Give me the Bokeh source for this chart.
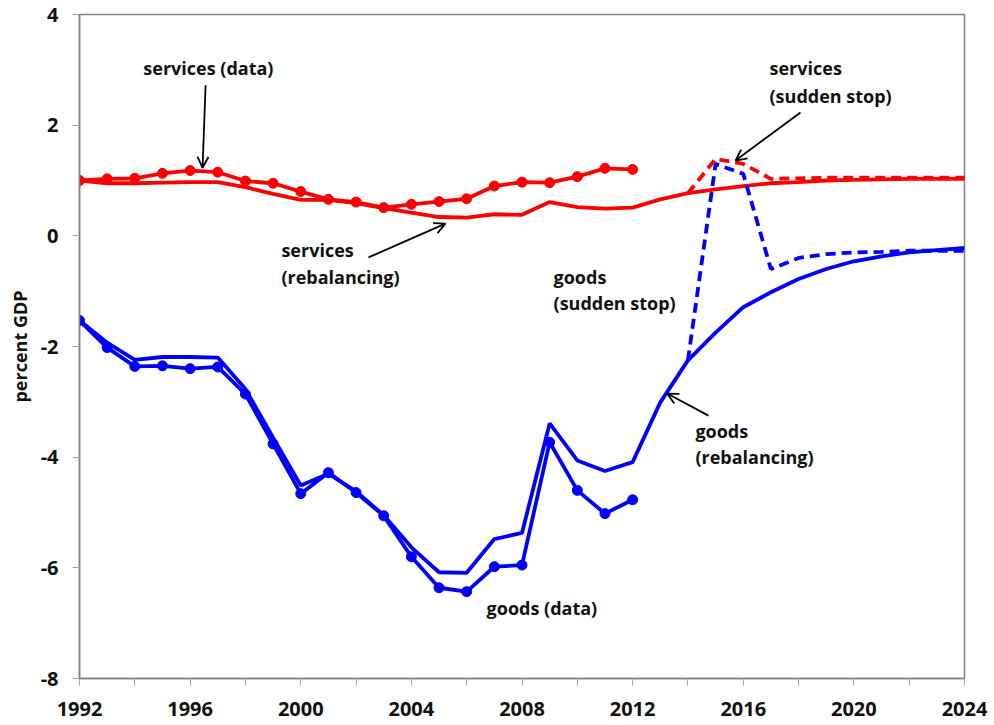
from bokeh.plotting import figure
from bokeh.models import FixedTicker, Arrow, OpenHead, Label, Range1d
from bokeh.embed import file_html
from bokeh.resources import INLINE

# ---------------- data ----------------
years_data = list(range(1992, 2013))
years_model = list(range(1992, 2025))
years_stop = list(range(2014, 2025))

services_data = [1.00, 1.03, 1.04, 1.13, 1.18, 1.15, 0.99, 0.95, 0.80, 0.66, 0.61,
                 0.51, 0.57, 0.62, 0.67, 0.90, 0.97, 0.96, 1.07, 1.22, 1.20]
goods_data = [-1.53, -2.02, -2.36, -2.35, -2.40, -2.37, -2.86, -3.76, -4.66, -4.28, -4.64,
              -5.06, -5.80, -6.36, -6.43, -5.98, -5.95, -3.73, -4.60, -5.02, -4.77]

services_rebal = [1.00, 0.95, 0.95, 0.96, 0.97, 0.97, 0.88, 0.76, 0.65, 0.65, 0.59,
                  0.50, 0.42, 0.34, 0.33, 0.39, 0.38, 0.61, 0.52, 0.49, 0.51,
                  0.66, 0.77, 0.84, 0.90, 0.95, 0.97, 1.00, 1.01, 1.02, 1.03, 1.03, 1.03]
goods_rebal = [-1.53, -1.93, -2.24, -2.19, -2.19, -2.20, -2.77, -3.65, -4.51, -4.30, -4.62,
               -5.05, -5.63, -6.08, -6.09, -5.48, -5.37, -3.39, -4.06, -4.25, -4.09,
               -3.01, -2.25, -1.75, -1.29, -1.02, -0.78, -0.60, -0.46, -0.37, -0.30, -0.26, -0.22]

services_stop = [0.77, 1.39, 1.30, 1.03, 1.04, 1.05, 1.05, 1.05, 1.05, 1.05, 1.05]
goods_stop = [-2.25, 1.30, 1.12, -0.60, -0.40, -0.33, -0.30, -0.29, -0.27, -0.27, -0.27]

x_major = [1992, 1996, 2000, 2004, 2008, 2012, 2016, 2020, 2024]
x_minor = [1994, 1998, 2002, 2006, 2010, 2014, 2018, 2022]
y_ticks = [-8, -6, -4, -2, 0, 2, 4]
y_labels = {t: str(t) for t in y_ticks}

RED = "#FF0000"
BLUE = "#0000FF"
FONT = "Open Sans"

p = figure(width=990, height=720, output_backend="svg", toolbar_location=None,
           x_range=Range1d(1992, 2024), y_range=Range1d(-8, 4),
           min_border_left=79, min_border_right=26, min_border_top=14, min_border_bottom=42)

p.xgrid.visible = False
p.ygrid.visible = False
p.outline_line_color = "#808080"
p.outline_line_width = 1.5

# axes
p.xaxis.ticker = FixedTicker(ticks=x_major, minor_ticks=x_minor)
p.yaxis.ticker = FixedTicker(ticks=y_ticks)
p.yaxis.major_label_overrides = y_labels
for ax in (p.xaxis, p.yaxis):
    ax.axis_line_color = "#808080"
    ax.axis_line_width = 1.5
    ax.major_tick_line_color = "#a0a0a0"
    ax.minor_tick_line_color = "#a0a0a0"
    ax.major_tick_in = 0
    ax.major_tick_out = 7
    ax.major_label_text_font = FONT
    ax.major_label_text_font_style = "bold"
    ax.major_label_text_font_size = "20px"
    ax.major_label_text_color = "#111111"
p.xaxis.minor_tick_in = 0
p.xaxis.minor_tick_out = 7
p.yaxis.minor_tick_line_color = None
p.xaxis.major_label_standoff = 16
p.yaxis.major_label_standoff = 14
p.yaxis.axis_label = "percent GDP"
p.yaxis.axis_label_text_font = FONT
p.yaxis.axis_label_text_font_style = "bold"
p.yaxis.axis_label_text_font_size = "18px"
p.yaxis.axis_label_text_color = "#111111"
p.yaxis.axis_label_standoff = 6

LW = 3.8
# model lines
p.line(years_model, services_rebal, color=RED, line_width=LW)
p.line(years_model, goods_rebal, color=BLUE, line_width=LW)
p.line(years_stop, services_stop, color=RED, line_width=LW, line_dash="10 6")
p.line(years_stop, goods_stop, color=BLUE, line_width=LW, line_dash="10 6")
# data lines with markers
p.line(years_data, services_data, color=RED, line_width=LW)
p.scatter(years_data, services_data, color=RED, size=10)
p.line(years_data, goods_data, color=BLUE, line_width=LW)
p.scatter(years_data, goods_data, color=BLUE, size=10)

# annotations
def lab(x, y, t, align="left"):
    p.add_layout(Label(x=x, y=y, text=t, text_font=FONT, text_font_style="bold",
                       text_font_size="18px", text_color="#111111",
                       text_align=align, text_baseline="middle"))

def arr(x0, y0, x1, y1):
    p.add_layout(Arrow(x_start=x0, y_start=y0, x_end=x1, y_end=y1,
                       line_color="black", line_width=1.8,
                       end=OpenHead(size=11, line_color="black", line_width=1.8)))

lab(1996.66, 3.04, "services (data)", align="center")
arr(1996.56, 2.72, 1996.45, 1.23)

lab(2016.95, 3.04, "services")
lab(2016.95, 2.52, "(sudden stop)")
arr(2018.07, 2.23, 2015.72, 1.36)

lab(1999.30, -0.265, "services")
lab(1999.30, -0.735, "(rebalancing)")
arr(2002.45, -0.39, 2005.23, 0.22)

lab(2009.14, -0.735, "goods")
lab(2009.14, -1.205, "(sudden stop)")

lab(2014.27, -3.52, "goods")
lab(2014.27, -3.99, "(rebalancing)")
arr(2014.74, -3.25, 2013.25, -2.85)

lab(2006.72, -6.73, "goods (data)")

open("out.html", "w").write(file_html(p, INLINE))
